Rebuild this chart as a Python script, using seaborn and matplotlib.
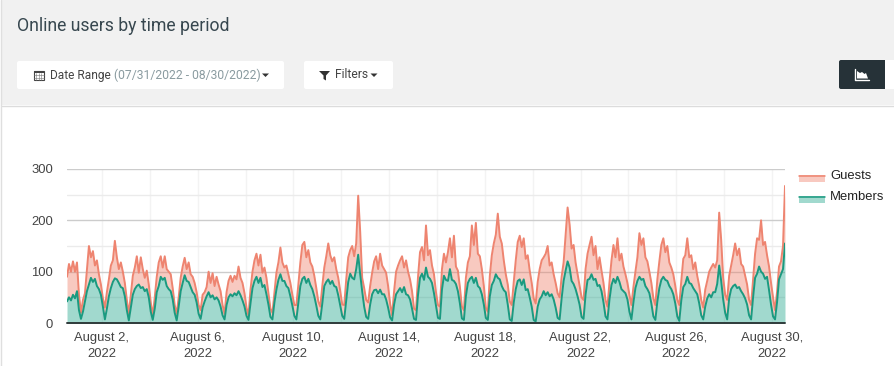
import numpy as np
import pandas as pd
import matplotlib
matplotlib.use("Agg")
import matplotlib.pyplot as plt
import matplotlib.dates as mdates
from matplotlib.patches import FancyBboxPatch, Rectangle, Polygon
import seaborn as sns

# values, one sample every 2 hours, one row per daily cycle
guests = [
    90, 115, 100, 120, 100, 118, 55,
    20, 45, 58, 105, 150, 128, 140, 112, 122, 95, 75, 48,
    30, 60, 85, 112, 122, 160, 128, 105, 118, 100, 78, 45,
    18, 55, 92, 108, 130, 98, 128, 105, 88, 102, 75, 40,
    15, 50, 90, 118, 130, 108, 130, 105, 100, 95, 68, 35,
    18, 50, 88, 110, 127, 105, 118, 95, 90, 78, 60, 35,
    25, 55, 60, 70, 100, 78, 97, 72, 90, 75, 62, 35,
    18, 60, 82, 92, 80, 92, 85, 110, 88, 78, 58, 30,
    15, 65, 100, 122, 135, 112, 133, 98, 108, 88, 58, 28,
    20, 60, 98, 118, 147, 118, 108, 112, 95, 78, 55, 35,
    35, 75, 118, 152, 158, 128, 142, 118, 110, 92, 68, 42,
    32, 72, 108, 130, 155, 132, 120, 128, 105, 88, 62, 36,
    35, 85, 128, 142, 150, 130, 155, 248, 178, 88, 68, 45,
    40, 72, 98, 120, 130, 105, 135, 112, 105, 98, 72, 38,
    15, 62, 100, 112, 122, 130, 108, 122, 100, 85, 62, 28,
    25, 90, 138, 148, 122, 190, 132, 142, 112, 95, 60, 35,
    32, 105, 135, 118, 138, 165, 128, 170, 110, 102, 70, 32,
    25, 88, 118, 130, 190, 152, 195, 135, 130, 105, 72, 30,
    22, 92, 132, 155, 172, 213, 168, 155, 122, 95, 75, 42,
    35, 80, 122, 158, 170, 148, 165, 125, 132, 102, 78, 48,
    38, 80, 105, 122, 128, 135, 150, 112, 118, 95, 78, 58,
    50, 90, 118, 172, 225, 192, 145, 152, 118, 95, 72, 50,
    45, 105, 135, 152, 168, 132, 150, 105, 128, 102, 78, 45,
    32, 80, 122, 152, 128, 165, 122, 135, 110, 95, 78, 55,
    35, 70, 100, 128, 175, 152, 165, 128, 120, 100, 78, 48,
    35, 85, 120, 152, 165, 138, 150, 118, 108, 95, 72, 45,
    35, 82, 125, 132, 165, 128, 132, 105, 118, 92, 72, 45,
    30, 65, 82, 100, 108, 115, 108, 122, 215, 162, 88, 55,
    45, 92, 112, 132, 155, 132, 145, 115, 110, 92, 75, 45,
    35, 85, 135, 165, 162, 200, 152, 158, 132, 110, 78, 50,
    25, 60, 110, 120, 150, 267,
]
members = [
    42, 50, 44, 55, 48, 62, 25,
    8, 22, 42, 62, 75, 88, 80, 86, 72, 66, 55, 32,
    7, 28, 52, 68, 80, 87, 85, 78, 70, 68, 52, 25,
    5, 30, 55, 66, 72, 75, 68, 70, 62, 66, 50, 22,
    6, 28, 60, 72, 90, 84, 88, 72, 66, 62, 46, 20,
    5, 32, 62, 78, 93, 82, 80, 70, 60, 55, 40, 18,
    8, 30, 42, 52, 60, 50, 54, 46, 50, 44, 32, 15,
    7, 35, 50, 56, 52, 58, 54, 62, 54, 44, 32, 14,
    6, 38, 68, 82, 90, 78, 88, 70, 74, 56, 36, 12,
    7, 40, 65, 84, 95, 82, 82, 72, 68, 52, 34, 14,
    7, 40, 72, 86, 90, 78, 86, 74, 66, 52, 34, 14,
    7, 38, 72, 80, 85, 76, 82, 72, 70, 54, 34, 14,
    8, 45, 80, 96, 88, 85, 105, 133, 95, 62, 32, 12,
    8, 36, 56, 64, 65, 58, 65, 56, 56, 46, 30, 11,
    5, 36, 56, 62, 68, 60, 70, 56, 54, 46, 28, 8,
    6, 55, 88, 96, 84, 108, 90, 86, 78, 58, 34, 10,
    8, 65, 92, 84, 82, 105, 84, 82, 76, 62, 38, 9,
    6, 52, 78, 86, 90, 78, 88, 72, 68, 56, 36, 10,
    6, 52, 74, 82, 95, 88, 85, 72, 64, 60, 36, 7,
    4, 40, 66, 82, 85, 74, 85, 64, 66, 50, 32, 6,
    3, 32, 46, 52, 62, 54, 60, 52, 56, 46, 30, 10,
    7, 48, 82, 102, 120, 108, 82, 76, 66, 52, 36, 12,
    8, 55, 84, 86, 95, 84, 86, 72, 74, 62, 40, 13,
    7, 46, 74, 86, 78, 90, 80, 66, 62, 58, 46, 22,
    7, 40, 68, 82, 90, 84, 86, 72, 66, 58, 38, 13,
    6, 42, 68, 84, 90, 84, 82, 72, 66, 56, 38, 13,
    4, 44, 70, 76, 90, 78, 76, 68, 62, 56, 38, 15,
    7, 32, 48, 56, 50, 60, 60, 76, 112, 82, 46, 20,
    7, 48, 66, 72, 75, 68, 70, 62, 56, 48, 36, 15,
    7, 50, 88, 96, 110, 100, 96, 86, 90, 64, 36, 13,
    7, 40, 85, 95, 105, 155,
]
start_time = "2022-07-31 13:00"
y_ticks = [0, 100, 200, 300]
y_minor = [50, 150, 250]
title = "Online users by time period"

W, H = 895, 366
guest_col = "#ef7a63"
guest_line = "#ee8470"
member_col = "#16a085"
member_line = "#1a9a80"

sns.set_style("white")
plt.rcParams["font.family"] = ["Liberation Sans", "DejaVu Sans"]

times = pd.date_range(start_time, periods=len(guests), freq="2h")
df = pd.DataFrame({"time": times, "Guests": guests, "Members": members})
long_df = df.melt("time", var_name="group", value_name="users")

fig = plt.figure(figsize=(W / 100, H / 100), dpi=100, facecolor="white")

# page furniture in pixel coords
bg = fig.add_axes([0, 0, 1, 1], zorder=0)
bg.set_xlim(0, W)
bg.set_ylim(H, 0)
bg.axis("off")
bg.add_patch(Rectangle((2, 0), W, 105, fc="#f1f1f1", ec="none"))
bg.plot([2, W], [105.5, 105.5], color="#dcdcdc", lw=1)
bg.plot([1.5, 1.5], [0, H], color="#dfdfdf", lw=1)


def button(x0, x1, y0, y1, col):
    bg.add_patch(FancyBboxPatch((x0 + 2, y0 + 2), x1 - x0 - 4, y1 - y0 - 4,
                                boxstyle="round,pad=2,rounding_size=2", fc=col, ec="none"))


def caret(x, y, col="#333333"):
    bg.add_patch(Polygon([(x, y), (x + 7, y), (x + 3.5, y + 3.5)], fc=col, ec="none"))


bg.text(17, 26, title, family="Roboto", fontsize=12.7, color="#37474f", va="center")

button(17, 284, 61, 89, "white")
button(304, 393, 61, 89, "white")
button(839, 890, 60, 89, "#263238")
bg.add_patch(Rectangle((885, 60), 10, 29, fc="white", ec="none"))

# calendar icon
bg.add_patch(Rectangle((34, 70.5), 10, 9.5, fc="none", ec="#444444", lw=0.8))
bg.add_patch(Rectangle((34, 70.5), 10, 2.2, fc="#444444", ec="none"))
for gx in [36.5, 39, 41.5]:
    bg.plot([gx, gx], [73, 80], color="#777777", lw=0.4)
for gy in [75, 77.5]:
    bg.plot([34, 44], [gy, gy], color="#777777", lw=0.4)

bg.text(50.5, 75, "Date Range", family="Roboto", fontsize=8.6, color="#444444", va="center")
bg.text(114, 75, "(07/31/2022 - 08/30/2022)", family="Roboto", fontsize=8.7, color="#8a9ba0", va="center")
caret(262, 73.5)

# filter icon
bg.add_patch(Polygon([(319, 71), (330, 71), (326, 75.5), (326, 80.5), (323.5, 79), (323.5, 75.5)],
                     fc="#333333", ec="none"))
bg.text(335.5, 75, "Filters", family="Roboto", fontsize=8.7, color="#444444", va="center")
caret(370.5, 73.5)

# area chart icon on the dark button
bg.plot([855.5, 855.5, 869], [69, 79.5, 79.5], color="white", lw=1)
bg.add_patch(Polygon([(857, 78.5), (857, 71), (860, 73), (862, 72), (864.5, 74), (866, 73), (868, 78.5)],
                     fc="white", ec="none"))

# legend
bg.add_patch(Rectangle((799, 175), 26, 7, fc=guest_col, alpha=0.4, ec="none"))
bg.plot([799, 825], [175.5, 175.5], color=guest_line, lw=1.1)
bg.add_patch(Rectangle((799, 196), 26, 7, fc=member_col, alpha=0.4, ec="none"))
bg.plot([799, 825], [196.5, 196.5], color=member_line, lw=1.1)
bg.text(830, 176, "Guests", fontsize=9.4, color="#222222", va="center")
bg.text(830, 197, "Members", fontsize=9.4, color="#222222", va="center")

# chart
ax = fig.add_axes([67 / W, 1 - 323 / H, (785 - 67) / W, (323 - 169) / H], zorder=1)
ax.patch.set_alpha(0)

ax.fill_between(df["time"], df["Members"], df["Guests"], color=guest_col, alpha=0.4, lw=0, zorder=3)
ax.fill_between(df["time"], 0, df["Members"], color=member_col, alpha=0.4, lw=0, zorder=3)
sns.lineplot(data=long_df, x="time", y="users", hue="group", estimator=None, ax=ax, legend=False,
             palette={"Guests": guest_line, "Members": member_line}, linewidth=1.4, zorder=4)

ax.set_xlim(times[0], times[-1])
ax.set_ylim(0, 300)
ax.set_xlabel("")
ax.set_ylabel("")
for s in ax.spines.values():
    s.set_visible(False)

ax.set_yticks(y_ticks)
ax.set_yticks(y_minor, minor=True)
ax.xaxis.set_major_locator(mdates.DayLocator(bymonthday=range(2, 31, 4)))
ax.xaxis.set_minor_locator(mdates.DayLocator(bymonthday=range(2, 31, 2)))
ax.xaxis.set_major_formatter(plt.FuncFormatter(
    lambda v, pos: mdates.num2date(v).strftime("%B %-d,\n%Y")))

ax.grid(True, axis="y", which="major", color="#cccccc", lw=1, zorder=1)
ax.grid(True, axis="y", which="minor", color="#ebebeb", lw=1, zorder=1)
ax.grid(True, axis="x", which="both", color="#f3f3f3", lw=1, zorder=1)
ax.set_axisbelow(True)
ax.tick_params(axis="both", which="both", length=0)
ax.tick_params(axis="x", pad=6.5, labelsize=9.4, labelcolor="#444444")
ax.tick_params(axis="y", pad=10, labelsize=9.4, labelcolor="#444444")
fig.canvas.draw()
for lab in ax.get_xticklabels():
    lab.set_linespacing(1.45)
    lab.set_clip_on(False)

ax.axhline(0, color="#2f3b3b", lw=1.4, zorder=5, clip_on=False)

fig.savefig("out.png", dpi=100)
